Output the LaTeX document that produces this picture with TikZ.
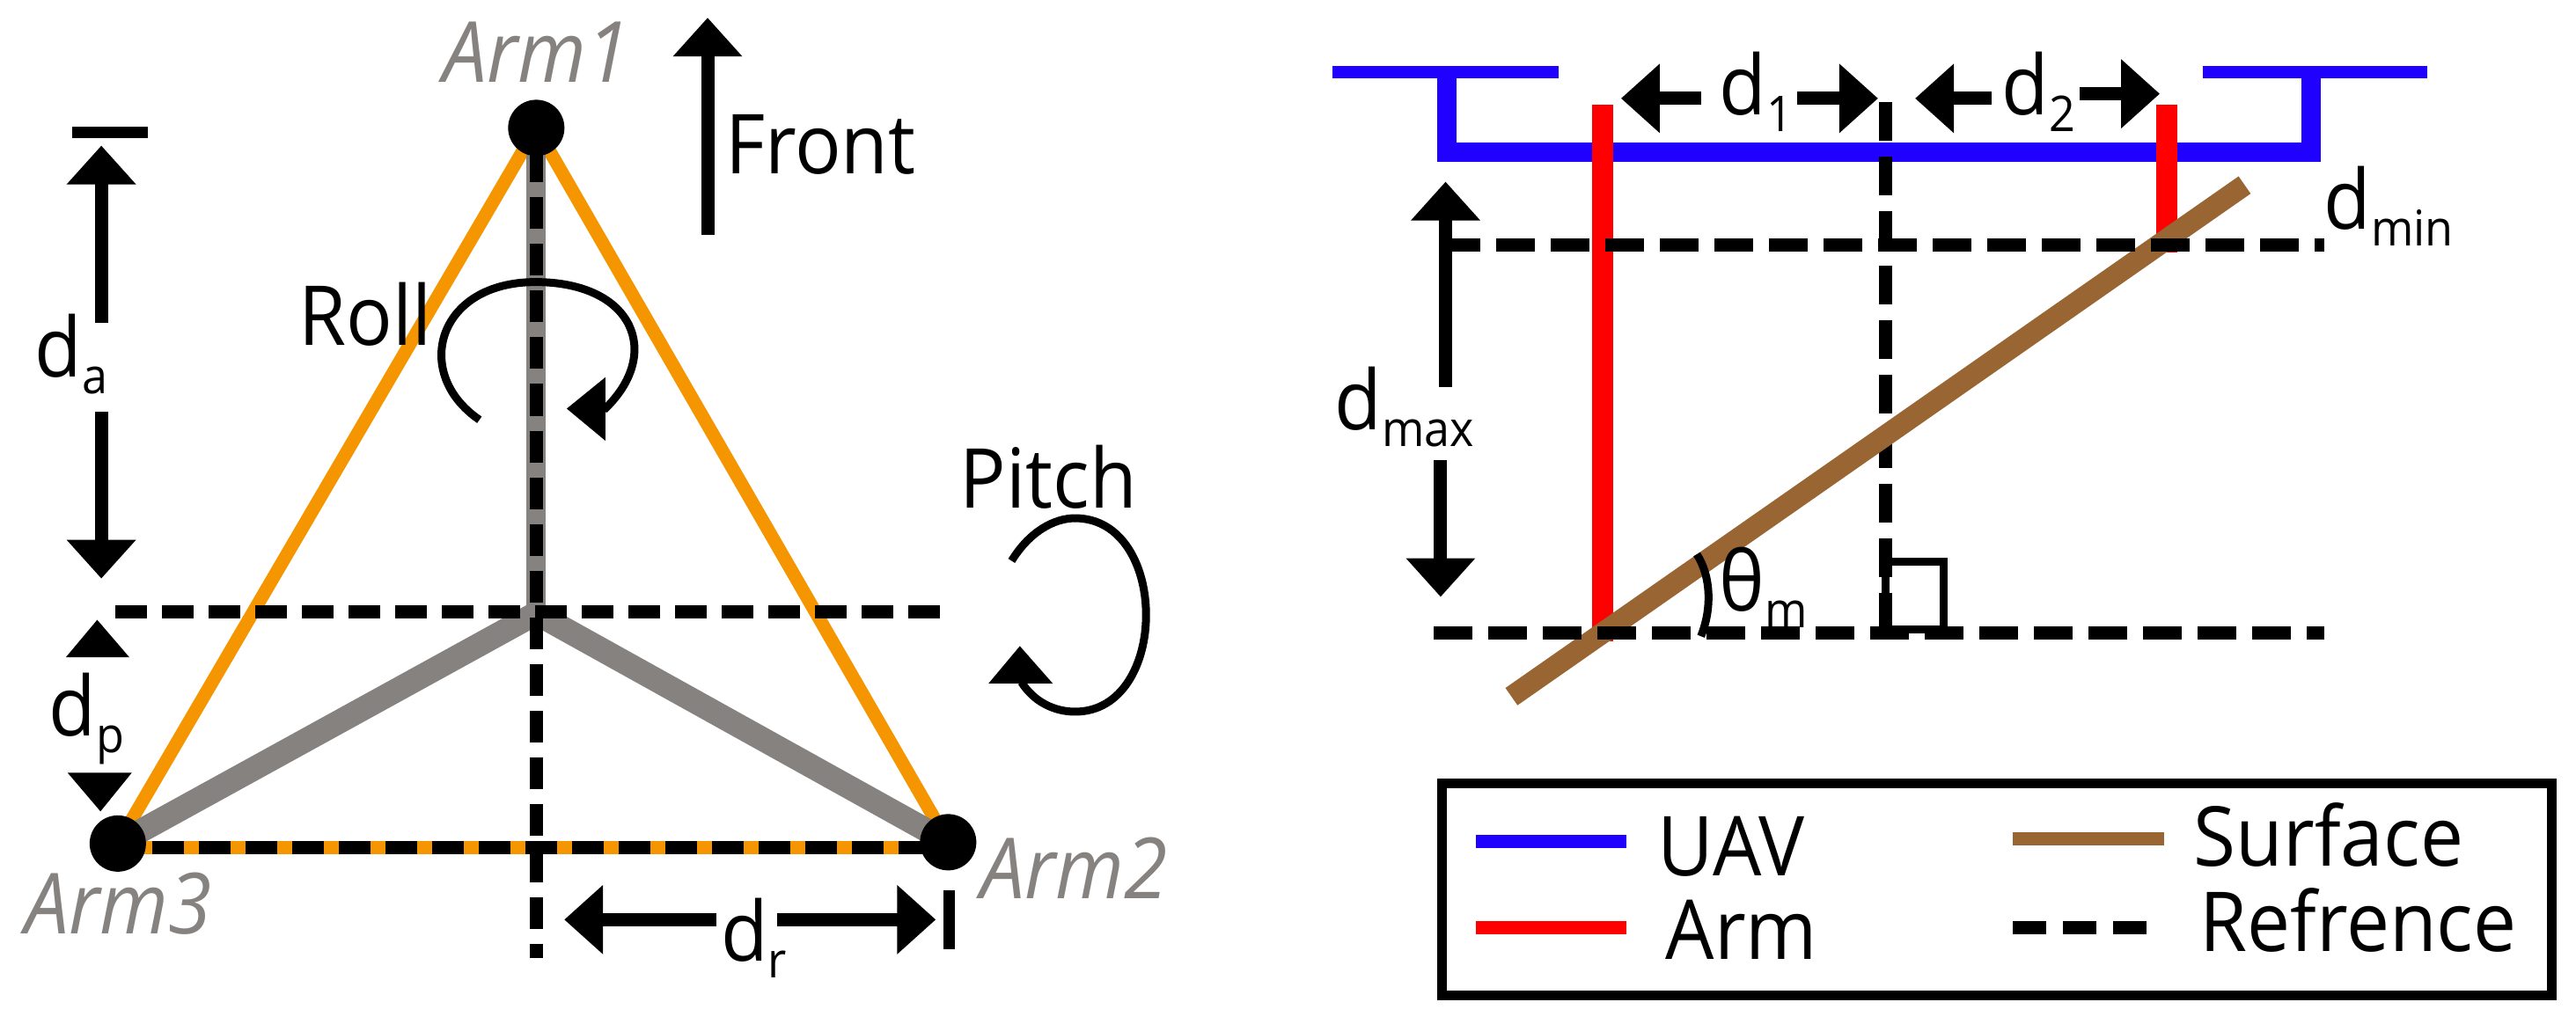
\documentclass[tikz,border=0pt]{standalone}
\usepackage{fontspec}
\setmainfont[FakeStretch=0.93]{Open Sans}
\usetikzlibrary{arrows.meta}
\definecolor{orng}{HTML}{F59500}
\definecolor{grayarm}{HTML}{868280}
\definecolor{uavblue}{HTML}{2000FF}
\definecolor{surf}{HTML}{996633}
\newcommand\lowsub[1]{\raisebox{-9.5pt}{\fontsize{28}{28}\selectfont #1}}
\tikzset{
  lbl/.style={anchor=base west,inner sep=0pt,font=\fontsize{47}{47}\selectfont,text=black},
  armlbl/.style={anchor=base west,inner sep=0pt,font=\fontsize{48}{48}\selectfont\itshape,text=grayarm},
  orangeline/.style={orng,line width=7.5pt},
  grayline/.style={grayarm,line width=13.5pt},
  grayvert/.style={grayarm,line width=11pt},
  dotnode/.style={circle,fill=black,inner sep=0pt,minimum size=32pt},
  refdashL/.style={black,line width=7.5pt,dash pattern=on 18pt off 8.5pt},
  refdashR/.style={black,line width=7.5pt,dash pattern=on 22pt off 9pt},
  dimarrow/.style={black,line width=7.5pt,-{Triangle[length=22pt,width=38pt]}},
  dimbar/.style={black,line width=6.5pt},
  spinline/.style={black,line width=4.5pt},
  uavline/.style={uavblue,line width=11pt,miter limit=10},
  uavthin/.style={uavblue,line width=6.8pt},
  armline/.style={red,line width=12pt},
  surfline/.style={surf,line width=12pt},
  legendline/.style={line width=7.5pt}
}
\begin{document}
\begin{tikzpicture}[line cap=butt]
\useasboundingbox (0pt,0pt) rectangle (1463.5pt,-581.5pt);
\fill[white] (0pt,0pt) rectangle (1463.5pt,-581.5pt);
% ---------- left panel
\begin{scope}[x=.468pt,y=-.3728pt]
\coordinate (arm1) at (651,195);
\coordinate (arm2) at (1151,1284);
\coordinate (arm3) at (143,1286);
\coordinate (hub) at (651,935);
\coordinate (vt) at (651,230);
\coordinate (vb) at (651,1460);
\coordinate (hl) at (140,933);
\coordinate (hr) at (1150,933);
\coordinate (bl) at (128,1292);
\coordinate (br) at (1140,1292);
\draw[orangeline] (arm1) -- (arm3);
\draw[orangeline] (arm1) -- (arm2);
\draw[orangeline] (bl) -- (br);
\draw[grayvert] (arm1) -- (hub);
\draw[grayline] (hub) -- (arm3);
\draw[grayline] (hub) -- (arm2);
\draw[refdashL] (vt) -- (vb);
\draw[refdashL] (hl) -- (hr);
\draw[refdashL] (bl) -- (br);
\node[dotnode] (dot1) at (arm1) {};
\node[dotnode] (dot2) at (arm2) {};
\node[dotnode] (dot3) at (arm3) {};
\node[armlbl] (t1) at (537,125) {Arm1};
\node[armlbl] (t2) at (1190,1370) {Arm2};
\node[armlbl] (t3) at (30,1424) {Arm3};
\node[lbl] (front) at (880,265) {Front};
\node[lbl] (roll) at (362,527) {Roll};
\node[lbl] (pitch) at (1165,775) {Pitch};
\node[lbl] (da) at (42,575) {d\lowsub{a}};
\node[lbl] (dp) at (59,1122) {d\lowsub{p}};
\node[lbl] (dr) at (875,1465) {d\lowsub{r}};
% front arrow
\draw[dimarrow] (859,358) -- (859,27);
% da
\draw[dimbar] (88,202) -- (180,202);
\draw[dimarrow] (123,492) -- (123,222);
\draw[dimarrow] (123,627) -- (123,882);
% dp
\fill (80,1002) -- (157,1002) -- (118,945) -- cycle;
\fill (82,1178) -- (160,1178) -- (122,1237) -- cycle;
% dr
\draw[dimarrow] (870,1402) -- (685,1402);
\draw[dimarrow] (943,1402) -- (1136,1402);
\draw[dimbar] (1152,1357) -- (1152,1447);
% roll
\draw[spinline] (582,640) .. controls (500,570) and (530,430) .. (650,430) .. controls (770,430) and (805,540) .. (733,625);
\fill (735,575) -- (735,672) -- (688,623) -- cycle;
% pitch
\draw[spinline] (1228,855) .. controls (1250,810) and (1280,790) .. (1305,790) .. controls (1420,790) and (1420,1085) .. (1305,1085) .. controls (1280,1085) and (1255,1070) .. (1240,1040);
\fill (1200,1042) -- (1278,1042) -- (1238,985) -- cycle;
\end{scope}
% ---------- right panel
\begin{scope}[xshift=730pt,x=.468pt,y=-.3728pt]
\coordinate (ul) at (197,110);
\coordinate (ur) at (1246,110);
\coordinate (ubl) at (197,232);
\coordinate (ubr) at (1246,232);
\draw[uavthin] (58,110) -- (332,110);
\draw[uavthin] (1114,110) -- (1387,110);
\draw[uavline] (ul) -- (ubl) -- (ubr) -- (ur);
\draw[armline] (386,160) -- (386,978);
\draw[armline] (1070,160) -- (1070,385);
\draw[refdashR] (729,156) -- (729,965);
\draw[surfline] (275,1062) -- (1165,282);
\draw[refdashR] (190,373) -- (1262,373);
\draw[refdashR] (181,965) -- (1262,965);
% d1 d2
\draw[dimarrow] (505,150) -- (408,150);
\draw[dimarrow] (622,150) -- (720,150);
\draw[dimarrow] (858,150) -- (765,150);
\draw[dimarrow] (965,143) -- (1062,143);
\node[lbl] (d1) at (527,175) {d\lowsub{1}};
\node[lbl] (d2) at (870,175) {d\lowsub{2}};
\node[lbl] (dmin) at (1261,350) {d\lowsub{min}};
\node[lbl] (dmax) at (60,655) {d\lowsub{max}};
\node[lbl] (theta) at (527,932) {θ\lowsub{m}};
% dmax arrows
\draw[dimarrow] (195,590) -- (195,277);
\draw[dimarrow] (189,702) -- (189,910);
% angle
\draw[spinline] (500,845) .. controls (518,880) and (518,930) .. (505,970);
% right-angle mark
\draw[black,line width=4.5pt] (729,857) rectangle (800,960);
% legend
\draw[black,line width=5.5pt] (191,1194) rectangle (1538,1517);
\draw[legendline,uavblue] (232,1283) -- (415,1283);
\draw[legendline,red] (232,1414) -- (415,1414);
\draw[legendline,surf] (884,1279) -- (1067,1279);
\draw[legendline,black,dash pattern=on 19pt off 9.5pt] (884,1414) -- (1055,1414);
\node[lbl] (uav) at (452,1335) {UAV};
\node[lbl] (arm) at (462,1462) {Arm};
\node[lbl] (surface) at (1103,1320) {Surface};
\node[lbl] (ref) at (1110,1451) {Refrence};
\end{scope}
\end{tikzpicture}
\end{document}
